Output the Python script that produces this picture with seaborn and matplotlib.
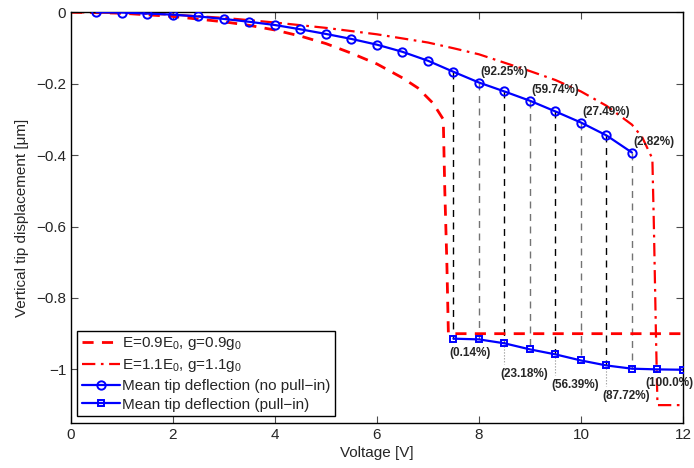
import matplotlib
matplotlib.use("Agg")
import matplotlib.pyplot as plt
import numpy as np
import seaborn as sns

# Bounding curves
v_low = [0, 1, 2, 3, 3.5, 4, 4.5, 5, 5.5, 6, 6.5, 6.8, 7.1, 7.3, 7.33, 7.37, 7.4, 12]
d_low = [0, -0.003, -0.012, -0.027, -0.037, -0.050, -0.067, -0.088, -0.115, -0.145,
         -0.184, -0.212, -0.255, -0.300, -0.5, -0.7, -0.9, -0.9]
v_high = [0, 1, 2, 3, 4, 5, 6, 7, 7.5, 8, 9, 9.5, 10, 10.5, 11, 11.2, 11.4, 11.43, 11.47, 11.5, 12]
d_high = [0, -0.002, -0.007, -0.016, -0.029, -0.044, -0.062, -0.085, -0.101, -0.118,
          -0.165, -0.19, -0.222, -0.262, -0.315, -0.35, -0.41, -0.6, -0.9, -1.1, -1.1]

# Mean tip deflection
v_nopull = [0.5, 1, 1.5, 2, 2.5, 3, 3.5, 4, 4.5, 5, 5.5, 6, 6.5, 7, 7.5, 8, 8.5, 9, 9.5, 10, 10.5, 11]
d_nopull = [0, -0.001, -0.004, -0.007, -0.012, -0.019, -0.027, -0.036, -0.048, -0.061, -0.075,
            -0.091, -0.111, -0.136, -0.167, -0.197, -0.222, -0.248, -0.278, -0.309, -0.345, -0.393]
v_pull = [7.5, 8, 8.5, 9, 9.5, 10, 10.5, 11, 11.5, 12]
d_pull = [-0.914, -0.916, -0.927, -0.944, -0.958, -0.975, -0.989, -0.998, -1.0, -1.001]

# Pull-in probability labels
v_top_lab = [8, 9, 10, 11]
top_lab = ["(92.25%)", "(59.74%)", "(27.49%)", "(2.82%)"]
v_bot_lab = [7.5, 8.5, 9.5, 10.5, 11.5]
bot_lab = ["(0.14%)", "(23.18%)", "(56.39%)", "(87.72%)", "(100.0%)"]

sns.set_style("ticks")
plt.rcParams["font.family"] = ["Liberation Sans", "DejaVu Sans"]
plt.rcParams["mathtext.fontset"] = "custom"
plt.rcParams["mathtext.rm"] = "Liberation Sans"
plt.rcParams["mathtext.it"] = "Liberation Sans"

fig = plt.figure(figsize=(6.94, 4.68), dpi=100)
ax = fig.add_axes([0.1023, 0.0962, 0.8818, 0.8778])

# vertical connectors between the two branches
nop = dict(zip(v_nopull, d_nopull))
pul = dict(zip(v_pull, d_pull))
for v in v_pull:
    if v not in nop:
        continue
    col = "0.45" if float(v).is_integer() else "black"
    ax.plot([v, v], [nop[v], pul[v]], color=col, lw=1, ls=(0, (5, 4)), zorder=1)

sns.lineplot(x=v_low, y=d_low, color="red", lw=2, linestyle=(0, (4, 3)), sort=False,
             label="E=0.9E$_0$, g=0.9g$_0$", ax=ax, zorder=2)
sns.lineplot(x=v_high, y=d_high, color="red", lw=1.6, linestyle=(0, (6, 2.5, 1.2, 2.5)), sort=False,
             label="E=1.1E$_0$, g=1.1g$_0$", ax=ax, zorder=2)
sns.lineplot(x=v_nopull, y=d_nopull, color="blue", lw=1.6, marker="o", markersize=6,
             markerfacecolor="none", markeredgecolor="blue", markeredgewidth=1.4,
             label="Mean tip deflection (no pull\u2212in)", ax=ax, zorder=3)
sns.lineplot(x=v_pull, y=d_pull, color="blue", lw=1.6, marker="s", markersize=5,
             markerfacecolor="none", markeredgecolor="blue", markeredgewidth=1.4,
             label="Mean tip deflection (pull\u2212in)", ax=ax, zorder=3)

lab_kw = dict(fontsize=8.5, fontweight="bold", color="0.15", textcoords="offset points")
for v, t in zip(v_top_lab, top_lab):
    ax.annotate(t, (v, nop[v]), xytext=(1, 7.5), ha="left", va="center", **lab_kw)
for i, (v, t) in enumerate(zip(v_bot_lab, bot_lab)):
    far = i in (1, 2, 3)
    dy = -22 if far else -10
    dx = -9 if i == 4 else -3
    ax.annotate(t, (v, pul[v]), xytext=(dx, dy), ha="left", va="center",
                annotation_clip=False, **lab_kw)
    if far:
        ax.plot([v, v], [pul[v] - 0.008, pul[v] - 0.058], color="0.55", lw=0.8, ls=":", zorder=1)

ax.set_xlim(0, 12)
ax.set_ylim(-1.15, 0)
ax.set_xticks(np.arange(0, 13, 2))
ax.set_yticks([0, -0.2, -0.4, -0.6, -0.8, -1])
ax.set_yticklabels(["0", "\u22120.2", "\u22120.4", "\u22120.6", "\u22120.8", "\u22121"])
ax.set_xlabel("Voltage [V]", fontsize=11, labelpad=3)
ax.set_ylabel("Vertical tip displacement [\u03bcm]", fontsize=11, labelpad=5)
ax.tick_params(direction="in", length=5, width=0.8, labelsize=11, top=True, right=True,
               color="0.3")
for s in ax.spines.values():
    s.set_linewidth(1)
    s.set_color("black")

leg = ax.legend(loc="lower left", bbox_to_anchor=(0.003, 0.005), fontsize=11, frameon=True,
                fancybox=False, framealpha=1, edgecolor="black", handlelength=2.5,
                handletextpad=0.15, borderpad=0.3, labelspacing=0.32, borderaxespad=0.3)
leg.get_frame().set_linewidth(1)

fig.savefig("out.png", dpi=100)
